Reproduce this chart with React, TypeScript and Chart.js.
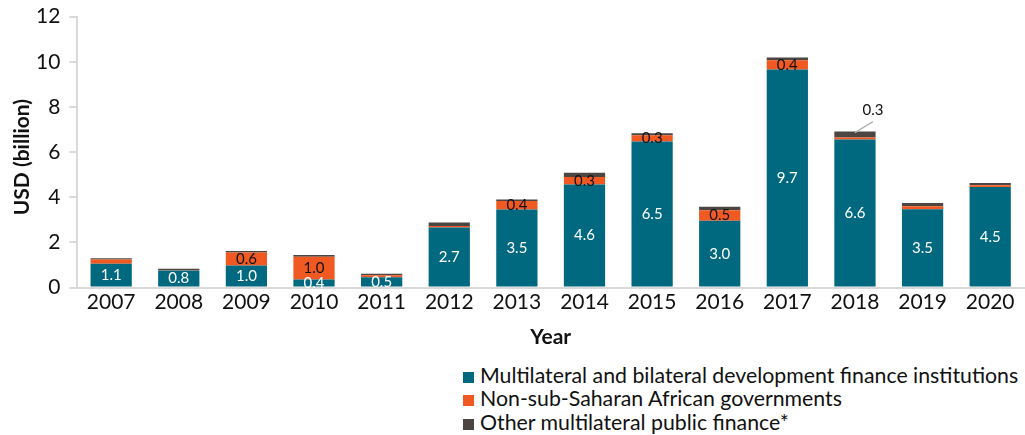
import React, { useEffect, useRef } from "react";
import { Chart, registerables } from "chart.js";

Chart.register(...registerables);

const years = ["2007", "2008", "2009", "2010", "2011", "2012", "2013", "2014", "2015", "2016", "2017", "2018", "2019", "2020"];
const dfiValues = [1.06, 0.76, 0.98, 0.36, 0.46, 2.66, 3.46, 4.56, 6.47, 2.96, 9.66, 6.56, 3.47, 4.46];
const nonSsaGovValues = [0.18, 0.02, 0.57, 1.01, 0.09, 0.07, 0.37, 0.34, 0.28, 0.46, 0.41, 0.09, 0.13, 0.07];
const otherMultilateralValues = [0.06, 0.05, 0.07, 0.07, 0.06, 0.15, 0.07, 0.19, 0.09, 0.16, 0.12, 0.26, 0.15, 0.1];
const seriesNames = [
  "Multilateral and bilateral development finance institutions",
  "Non-sub-Saharan African governments",
  "Other multilateral public finance*",
];
const seriesColors = ["#006980", "#F05A22", "#4D4542"];
const yMin = 0;
const yMax = 12;
const yStep = 2;
const xTitle = "Year";
const yTitle = "USD (billion)";
const labelThreshold = 0.25;

const FONT = "Lato, 'Noto Sans', sans-serif";
const AXIS_GREY = "#D9D9D9";
const CANVAS_SHIFT = 5;

const yTitlePlugin = {
  id: "yTitle",
  afterDraw(chart: any) {
    const ctx = chart.ctx;
    const area = chart.chartArea;
    ctx.save();
    ctx.font = `bold 21px ${FONT}`;
    ctx.fillStyle = "#111111";
    ctx.textAlign = "center";
    ctx.textBaseline = "middle";
    ctx.translate(22, (area.top + area.bottom) / 2 + 5);
    ctx.rotate(-Math.PI / 2);
    ctx.fillText(yTitle, 0, 0);
    ctx.restore();
  },
};

const labelPlugin = {
  id: "segmentLabels",
  afterDatasetsDraw(chart: any) {
    const ctx = chart.ctx;
    ctx.save();
    ctx.font = `15px ${FONT}`;
    ctx.textAlign = "center";
    ctx.textBaseline = "middle";
    chart.data.datasets.forEach((ds: any, di: number) => {
      const meta = chart.getDatasetMeta(di);
      meta.data.forEach((el: any, i: number) => {
        const v = ds.data[i];
        const p = el.getProps(["x", "y", "base"], true);
        const txt = v.toFixed(1);
        if (di === 0) {
          ctx.fillStyle = "#FFFFFF";
          ctx.fillText(txt, p.x, (p.y + p.base) / 2);
        } else if (di === 1) {
          if (v >= labelThreshold) {
            ctx.fillStyle = "#111111";
            ctx.fillText(txt, p.x, (p.y + p.base) / 2);
          }
        } else if (di === 2) {
          if (v >= labelThreshold) {
            ctx.strokeStyle = "#B5B5B5";
            ctx.lineWidth = 1.5;
            ctx.beginPath();
            ctx.moveTo(p.x, p.y + 1);
            ctx.lineTo(p.x + 18, p.y - 10);
            ctx.stroke();
            ctx.fillStyle = "#111111";
            ctx.fillText(txt, p.x + 18, p.y - 21);
          }
        }
      });
    });
    ctx.restore();
  },
};

export default function App() {
  const canvasRef = useRef<HTMLCanvasElement | null>(null);

  useEffect(() => {
    if (!canvasRef.current) return;
    const chart = new Chart(canvasRef.current, {
      type: "bar",
      data: {
        labels: years,
        datasets: [dfiValues, nonSsaGovValues, otherMultilateralValues].map((d, i) => ({
          label: seriesNames[i],
          data: d,
          backgroundColor: seriesColors[i],
          borderWidth: 0,
          barPercentage: 0.61,
          categoryPercentage: 1,
        })),
      },
      options: {
        responsive: false,
        animation: false,
        layout: { padding: { left: 27, right: 1, top: 0, bottom: 0 } },
        plugins: {
          legend: { display: false },
          tooltip: { enabled: false },
        },
        scales: {
          x: {
            stacked: true,
            grid: { display: false, drawTicks: false },
            border: { display: true, color: AXIS_GREY, width: 2 },
            ticks: { color: "#111111", font: { family: FONT, size: 21 }, padding: 2 },
            title: {
              display: true,
              text: xTitle,
              color: "#111111",
              font: { family: FONT, size: 21, weight: "bold" },
              padding: { top: 8, bottom: 0 },
            },
          },
          y: {
            stacked: true,
            min: yMin,
            max: yMax,
            grid: { display: true, drawOnChartArea: false, drawTicks: true, tickLength: 8, color: AXIS_GREY, lineWidth: 2 },
            border: { display: true, color: AXIS_GREY, width: 2 },
            ticks: { stepSize: yStep, color: "#111111", font: { family: FONT, size: 21 }, padding: 9 },
          },
        },
      },
      plugins: [labelPlugin, yTitlePlugin],
    });
    return () => chart.destroy();
  }, []);

  return (
    <div style={{ position: "fixed", left: 0, top: 0, width: 1025, height: 435, background: "#FFFFFF", overflow: "hidden" }}>
      <canvas
        ref={canvasRef}
        width={1025}
        height={355}
        style={{ display: "block", position: "absolute", left: 0, top: -CANVAS_SHIFT }}
      />
      <div style={{ position: "absolute", left: 463, top: 362.5, fontFamily: FONT, fontSize: 21.3, color: "#111111" }}>
        {seriesNames.map((n, i) => (
          <div key={n} style={{ display: "flex", alignItems: "flex-start", height: 23.65, lineHeight: "24px", whiteSpace: "nowrap" }}>
            <span style={{ display: "inline-block", width: 11, height: 11, marginTop: 9, background: seriesColors[i], marginRight: 6, flex: "none" }} />
            <span>{n}</span>
          </div>
        ))}
      </div>
    </div>
  );
}
